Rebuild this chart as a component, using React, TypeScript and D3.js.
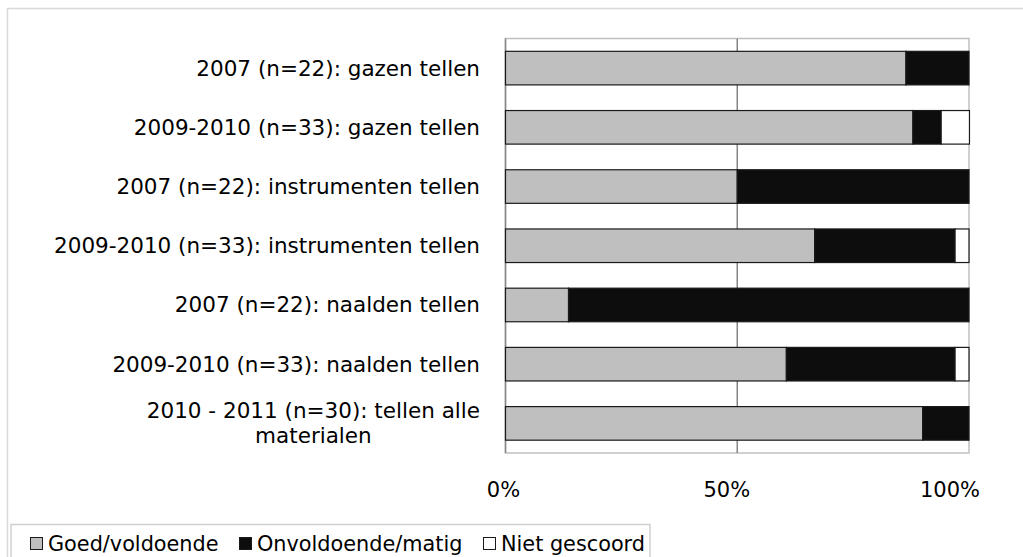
import { useRef, useEffect } from 'react'
import * as d3 from 'd3'

// categories (top to bottom)
const categories = [
  '2007 (n=22): gazen tellen',
  '2009-2010 (n=33): gazen tellen',
  '2007 (n=22): instrumenten tellen',
  '2009-2010 (n=33): instrumenten tellen',
  '2007 (n=22): naalden tellen',
  '2009-2010 (n=33): naalden tellen',
  '2010 - 2011 (n=30): tellen alle|materialen',
]

// shares per series (percent)
const goed = [86.4, 87.9, 50, 66.7, 13.6, 60.6, 90]
const onvoldoende = [13.6, 6.1, 50, 30.3, 86.4, 36.4, 10]
const nietGescoord = [0, 6.1, 0, 3.0, 0, 3.0, 0]

const seriesNames = ['Goed/voldoende', 'Onvoldoende/matig', 'Niet gescoord']
const seriesColors = ['#bfbfbf', '#0d0d0d', '#ffffff']
const ticks = [0, 50, 100]

const FONT = '"DejaVu Sans", Verdana, sans-serif'

const App = () => {
  const svgRef = useRef<SVGSVGElement>(null)

  useEffect(() => {
    const W = 1023
    const H = 557
    const svg = d3.select(svgRef.current)
    svg.selectAll('*').remove()
    svg.attr('width', W).attr('height', H)

    const left = 505.5
    const right = 969
    const top = 38.5
    const bottom = 453

    // outer frame
    svg.append('rect')
      .attr('x', 7.5).attr('y', 8.5)
      .attr('width', W).attr('height', H)
      .attr('fill', '#fff').attr('stroke', '#d9d9d9').attr('stroke-width', 1.5)

    const x = d3.scaleLinear().domain([0, 100]).range([left, right])
    const y = d3.scaleBand<number>()
      .domain(d3.range(categories.length))
      .range([top, bottom])
      .paddingInner(0.433)
      .paddingOuter(0.2165)

    // plot border
    svg.append('rect')
      .attr('x', left).attr('y', top)
      .attr('width', right - left).attr('height', bottom - top)
      .attr('fill', 'none').attr('stroke', '#c0c0c0').attr('stroke-width', 1.5)

    // gridlines
    svg.append('g').selectAll('line')
      .data([0, 50])
      .enter()
      .append('line')
      .attr('x1', d => x(d)).attr('x2', d => x(d))
      .attr('y1', top).attr('y2', bottom)
      .attr('stroke', '#868686').attr('stroke-width', 1.5)

    // stacked bars
    const rows = categories.map((c, i) => ({
      i, vals: [goed[i], onvoldoende[i], nietGescoord[i]],
    }))
    const g = svg.append('g')
    rows.forEach(r => {
      let acc = 0
      r.vals.forEach((v, s) => {
        if (v <= 0) { return }
        g.append('rect')
          .attr('x', x(acc))
          .attr('y', y(r.i)!)
          .attr('width', x(acc + v) - x(acc))
          .attr('height', y.bandwidth())
          .attr('fill', seriesColors[s])
          .attr('stroke', '#1a1a1a')
          .attr('stroke-width', 1.2)
        acc += v
      })
    })

    // category labels (first line right aligned, further lines centred under it)
    categories.forEach((c, i) => {
      const lines = c.split('|')
      const cy = y(i)! + y.bandwidth() / 2
      const first = svg.append('text')
        .attr('x', 480)
        .attr('y', cy - (lines.length - 1) * 12.5)
        .attr('dy', '0.35em')
        .attr('text-anchor', 'end')
        .attr('font-family', FONT)
        .attr('font-size', 21.5)
        .attr('fill', '#000')
        .text(lines[0])
      const w = (first.node() as SVGTextElement).getComputedTextLength()
      lines.slice(1).forEach((l, k) => {
        svg.append('text')
          .attr('x', 480 - w / 2)
          .attr('y', cy - (lines.length - 1) * 12.5 + 25 * (k + 1))
          .attr('dy', '0.35em')
          .attr('text-anchor', 'middle')
          .attr('font-family', FONT)
          .attr('font-size', 21.5)
          .attr('fill', '#000')
          .text(l)
      })
    })

    // tick labels
    const xLabel = d3.scaleLinear().domain([0, 100]).range([503.5, 950])
    svg.append('g').selectAll('text')
      .data(ticks)
      .enter()
      .append('text')
      .attr('x', d => xLabel(d))
      .attr('y', 490)
      .attr('dy', '0.35em')
      .attr('text-anchor', 'middle')
      .attr('font-family', FONT)
      .attr('font-size', 21)
      .text(d => `${d}%`)

    // legend
    svg.append('rect')
      .attr('x', 11).attr('y', 524.5)
      .attr('width', 639).attr('height', 60)
      .attr('fill', '#fff').attr('stroke', '#d0d0d0').attr('stroke-width', 1.5)
    const legendX = [30, 239, 483]
    seriesNames.forEach((n, s) => {
      svg.append('rect')
        .attr('x', legendX[s] + 0.5).attr('y', 537.5)
        .attr('width', 12).attr('height', 12)
        .attr('fill', seriesColors[s]).attr('stroke', '#1a1a1a').attr('stroke-width', 1)
      svg.append('text')
        .attr('x', legendX[s] + 18)
        .attr('y', 544)
        .attr('dy', '0.35em')
        .attr('font-family', FONT)
        .attr('font-size', 20.8)
        .text(n)
    })
  }, [])

  return (
    <svg ref={svgRef} style={{ position: 'absolute', left: 0, top: 0 }}></svg>
  )
}
export default App
